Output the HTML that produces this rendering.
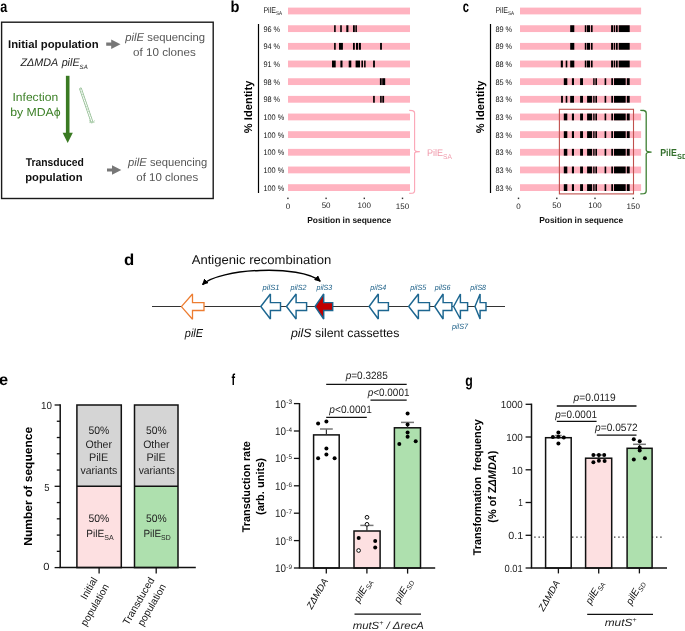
<!DOCTYPE html>
<html><head><meta charset="utf-8"><title>Figure</title>
<style>html,body{margin:0;padding:0;background:#fff;} svg{display:block;will-change:transform;} text{font-family:"Liberation Sans", sans-serif;text-rendering:geometricPrecision;}</style>
</head><body>
<svg width="685" height="631" viewBox="0 0 685 631" font-family='"Liberation Sans", sans-serif'>
<rect width="685" height="631" fill="#fff"/>
<text x="0.33" y="11.7" font-size="16" textLength="7.00" lengthAdjust="spacingAndGlyphs" font-weight="bold" font-style="normal" fill="#000">a</text>
<rect x="1.6" y="22.2" width="211.6" height="176.3" fill="none" stroke="#1a1a1a" stroke-width="1.4"/>
<text x="8.05" y="48" font-size="11.2" textLength="90.52" lengthAdjust="spacingAndGlyphs" font-weight="bold" font-style="normal" fill="#111">Initial population</text>
<text x="20.48" y="65.9" font-size="11.0" textLength="67.22" lengthAdjust="spacingAndGlyphs" font-weight="normal" font-style="italic" fill="#222">ZΔMDA <tspan dx="0.8">pilE</tspan><tspan font-size="6.2" dy="3.0">SA</tspan></text>
<polygon points="106.2,42.6 111.2,42.6 111.2,39.5 120.5,44.2 111.2,48.900000000000006 111.2,45.800000000000004 106.2,45.800000000000004" fill="#777"/>
<polygon points="107.0,168.4 112.0,168.4 112.0,165.3 121.3,170.0 112.0,174.7 112.0,171.6 107.0,171.6" fill="#777"/>
<text x="125.32" y="40.7" font-size="11.4" textLength="79.65" lengthAdjust="spacingAndGlyphs" font-weight="normal" font-style="normal" fill="#555"><tspan font-style="italic">pilE</tspan> sequencing</text>
<text x="133.04" y="55.6" font-size="11.4" textLength="62.75" lengthAdjust="spacingAndGlyphs" font-weight="normal" font-style="normal" fill="#555">of 10 clones</text>
<text x="128.10" y="166.4" font-size="11.4" textLength="79.05" lengthAdjust="spacingAndGlyphs" font-weight="normal" font-style="normal" fill="#555"><tspan font-style="italic">pilE</tspan> sequencing</text>
<text x="136.28" y="181.3" font-size="11.4" textLength="61.95" lengthAdjust="spacingAndGlyphs" font-weight="normal" font-style="normal" fill="#555">of 10 clones</text>
<rect x="65.9" y="75.8" width="3.6" height="57.4" fill="#3a7a22"/>
<polygon points="62.6,132.7 72.8,132.7 67.7,142.9" fill="#3a7a22"/>
<line x1="80.6" y1="89.0" x2="91.6" y2="121.0" stroke="#8dba8d" stroke-width="2.7" stroke-linecap="round"/>
<line x1="80.6" y1="89.0" x2="91.6" y2="121.0" stroke="#fff" stroke-width="1.2" stroke-linecap="round"/>
<line x1="80.6" y1="89.0" x2="91.6" y2="121.0" stroke="#b9d6b9" stroke-width="1.2" stroke-dasharray="0.9 1.7"/>
<polyline points="89.0,120.4 91.9,123.2 94.8,120.6" fill="none" stroke="#9cc49c" stroke-width="0.8"/>
<line x1="89.2" y1="122.6" x2="94.6" y2="122.4" stroke="#b0d0b0" stroke-width="0.7"/>
<text x="12.44" y="101" font-size="11.6" textLength="45.75" lengthAdjust="spacingAndGlyphs" font-weight="normal" font-style="normal" fill="#3d8128">Infection</text>
<text x="10.16" y="115.8" font-size="11.6" textLength="50.49" lengthAdjust="spacingAndGlyphs" font-weight="normal" font-style="normal" fill="#3d8128">by MDAϕ</text>
<text x="25.69" y="166.2" font-size="11.2" textLength="58.16" lengthAdjust="spacingAndGlyphs" font-weight="bold" font-style="normal" fill="#111">Transduced</text>
<text x="25.19" y="181.0" font-size="11.2" textLength="57.30" lengthAdjust="spacingAndGlyphs" font-weight="bold" font-style="normal" fill="#111">population</text>
<text x="230.61" y="11.8" font-size="16" textLength="8.92" lengthAdjust="spacingAndGlyphs" font-weight="bold" font-style="normal" fill="#000">b</text>
<rect x="288" y="7.60" width="122.0" height="6.8" fill="#ffb3c0"/>
<rect x="288" y="25.26" width="122.0" height="6.8" fill="#ffb3c0"/>
<rect x="288" y="42.92" width="122.0" height="6.8" fill="#ffb3c0"/>
<rect x="288" y="60.58" width="122.0" height="6.8" fill="#ffb3c0"/>
<rect x="288" y="78.24" width="122.0" height="6.8" fill="#ffb3c0"/>
<rect x="288" y="95.90" width="122.0" height="6.8" fill="#ffb3c0"/>
<rect x="288" y="113.56" width="122.0" height="6.8" fill="#ffb3c0"/>
<rect x="288" y="131.22" width="122.0" height="6.8" fill="#ffb3c0"/>
<rect x="288" y="148.88" width="122.0" height="6.8" fill="#ffb3c0"/>
<rect x="288" y="166.54" width="122.0" height="6.8" fill="#ffb3c0"/>
<rect x="288" y="184.20" width="122.0" height="6.8" fill="#ffb3c0"/>
<rect x="334.1" y="25.26" width="1.6" height="6.8" fill="#000"/>
<rect x="340.2" y="25.26" width="1.6" height="6.8" fill="#000"/>
<rect x="346.3" y="25.26" width="2.1" height="6.8" fill="#000"/>
<rect x="353.0" y="25.26" width="1.8" height="6.8" fill="#000"/>
<rect x="355.4" y="25.26" width="1.5" height="6.8" fill="#000"/>
<rect x="334.1" y="42.92" width="1.6" height="6.8" fill="#000"/>
<rect x="339.0" y="42.92" width="3.9" height="6.8" fill="#000"/>
<rect x="353.0" y="42.92" width="1.8" height="6.8" fill="#000"/>
<rect x="356.0" y="42.92" width="2.1" height="6.8" fill="#000"/>
<rect x="358.9" y="42.92" width="2.0" height="6.8" fill="#000"/>
<rect x="380.1" y="42.92" width="1.8" height="6.8" fill="#000"/>
<rect x="332.0" y="60.58" width="3.7" height="6.8" fill="#000"/>
<rect x="340.4" y="60.58" width="2.1" height="6.8" fill="#000"/>
<rect x="348.7" y="60.58" width="2.6" height="6.8" fill="#000"/>
<rect x="355.6" y="60.58" width="4.4" height="6.8" fill="#000"/>
<rect x="361.4" y="60.58" width="1.6" height="6.8" fill="#000"/>
<rect x="364.1" y="60.58" width="1.5" height="6.8" fill="#000"/>
<rect x="373.1" y="60.58" width="1.8" height="6.8" fill="#000"/>
<rect x="379.9" y="78.24" width="1.8" height="6.8" fill="#000"/>
<rect x="382.2" y="78.24" width="3.0" height="6.8" fill="#000"/>
<rect x="373.1" y="95.90" width="1.7" height="6.8" fill="#000"/>
<rect x="380.1" y="95.90" width="1.6" height="6.8" fill="#000"/>
<rect x="382.3" y="95.90" width="1.8" height="6.8" fill="#000"/>
<text x="263.39" y="13.2" font-size="8.4" textLength="18.68" lengthAdjust="spacingAndGlyphs" font-weight="normal" font-style="normal" fill="#222">PilE<tspan font-size="5.4" dy="1.9">SA</tspan></text>
<text x="263.39" y="31.66" font-size="8.1" textLength="16.76" lengthAdjust="spacingAndGlyphs" font-weight="normal" font-style="normal" fill="#151515">96 %</text>
<text x="263.39" y="49.32" font-size="8.1" textLength="16.76" lengthAdjust="spacingAndGlyphs" font-weight="normal" font-style="normal" fill="#151515">94 %</text>
<text x="263.39" y="66.98" font-size="8.1" textLength="16.76" lengthAdjust="spacingAndGlyphs" font-weight="normal" font-style="normal" fill="#151515">91 %</text>
<text x="263.39" y="84.64" font-size="8.1" textLength="16.76" lengthAdjust="spacingAndGlyphs" font-weight="normal" font-style="normal" fill="#151515">98 %</text>
<text x="263.39" y="102.3" font-size="8.1" textLength="16.76" lengthAdjust="spacingAndGlyphs" font-weight="normal" font-style="normal" fill="#151515">98 %</text>
<text x="263.39" y="119.96" font-size="8.1" textLength="20.90" lengthAdjust="spacingAndGlyphs" font-weight="normal" font-style="normal" fill="#151515">100 %</text>
<text x="263.39" y="137.62" font-size="8.1" textLength="20.90" lengthAdjust="spacingAndGlyphs" font-weight="normal" font-style="normal" fill="#151515">100 %</text>
<text x="263.39" y="155.28" font-size="8.1" textLength="20.90" lengthAdjust="spacingAndGlyphs" font-weight="normal" font-style="normal" fill="#151515">100 %</text>
<text x="263.39" y="172.94" font-size="8.1" textLength="20.90" lengthAdjust="spacingAndGlyphs" font-weight="normal" font-style="normal" fill="#151515">100 %</text>
<text x="263.39" y="190.6" font-size="8.1" textLength="20.90" lengthAdjust="spacingAndGlyphs" font-weight="normal" font-style="normal" fill="#151515">100 %</text>
<line x1="258.5" y1="24" x2="258.5" y2="193" stroke="#000" stroke-width="1.2"/>
<text transform="translate(252.4,106.9) rotate(-90)" x="0" y="0" font-size="11.2" font-weight="bold" text-anchor="middle" fill="#000" textLength="52.5" lengthAdjust="spacingAndGlyphs">% Identity</text>
<rect x="287.2" y="197.6" width="1.4" height="1.5" fill="#333"/>
<text x="287.9" y="209.3" font-size="8.0" text-anchor="middle" font-weight="normal" font-style="normal" fill="#222" >0</text>
<rect x="325.4" y="197.6" width="1.4" height="1.5" fill="#333"/>
<text x="326.1" y="208.4" font-size="8.0" text-anchor="middle" font-weight="normal" font-style="normal" fill="#222" >50</text>
<rect x="363.6" y="197.6" width="1.4" height="1.5" fill="#333"/>
<text x="364.3" y="208.3" font-size="8.0" text-anchor="middle" font-weight="normal" font-style="normal" fill="#222" >100</text>
<rect x="401.8" y="197.6" width="1.4" height="1.5" fill="#333"/>
<text x="402.5" y="209.3" font-size="8.0" text-anchor="middle" font-weight="normal" font-style="normal" fill="#222" >150</text>
<text x="307.16" y="222.6" font-size="8.6" textLength="83.95" lengthAdjust="spacingAndGlyphs" font-weight="bold" font-style="normal" fill="#111">Position in sequence</text>
<text x="462.71" y="11.8" font-size="16" textLength="6.22" lengthAdjust="spacingAndGlyphs" font-weight="bold" font-style="normal" fill="#000">c</text>
<rect x="520.0" y="7.60" width="121.1" height="6.8" fill="#ffb3c0"/>
<rect x="520.0" y="25.26" width="121.1" height="6.8" fill="#ffb3c0"/>
<rect x="520.0" y="42.92" width="121.1" height="6.8" fill="#ffb3c0"/>
<rect x="520.0" y="60.58" width="121.1" height="6.8" fill="#ffb3c0"/>
<rect x="520.0" y="78.24" width="121.1" height="6.8" fill="#ffb3c0"/>
<rect x="520.0" y="95.90" width="121.1" height="6.8" fill="#ffb3c0"/>
<rect x="520.0" y="113.56" width="121.1" height="6.8" fill="#ffb3c0"/>
<rect x="520.0" y="131.22" width="121.1" height="6.8" fill="#ffb3c0"/>
<rect x="520.0" y="148.88" width="121.1" height="6.8" fill="#ffb3c0"/>
<rect x="520.0" y="166.54" width="121.1" height="6.8" fill="#ffb3c0"/>
<rect x="520.0" y="184.20" width="121.1" height="6.8" fill="#ffb3c0"/>
<rect x="570.2" y="25.26" width="4.1" height="6.8" fill="#000"/>
<rect x="584.8" y="25.26" width="1.5" height="6.8" fill="#000"/>
<rect x="586.9" y="25.26" width="3.1" height="6.8" fill="#000"/>
<rect x="590.9" y="25.26" width="1.7" height="6.8" fill="#000"/>
<rect x="611.1" y="25.26" width="1.9" height="6.8" fill="#000"/>
<rect x="613.7" y="25.26" width="1.5" height="6.8" fill="#000"/>
<rect x="616.0" y="25.26" width="1.7" height="6.8" fill="#000"/>
<rect x="618.7" y="25.26" width="11.0" height="6.8" fill="#000"/>
<rect x="570.2" y="42.92" width="4.1" height="6.8" fill="#000"/>
<rect x="584.8" y="42.92" width="1.5" height="6.8" fill="#000"/>
<rect x="586.9" y="42.92" width="3.1" height="6.8" fill="#000"/>
<rect x="590.9" y="42.92" width="1.7" height="6.8" fill="#000"/>
<rect x="611.1" y="42.92" width="1.9" height="6.8" fill="#000"/>
<rect x="613.7" y="42.92" width="1.5" height="6.8" fill="#000"/>
<rect x="616.0" y="42.92" width="1.7" height="6.8" fill="#000"/>
<rect x="618.7" y="42.92" width="11.0" height="6.8" fill="#000"/>
<rect x="560.8" y="60.58" width="2.1" height="6.8" fill="#000"/>
<rect x="565.7" y="60.58" width="1.6" height="6.8" fill="#000"/>
<rect x="570.2" y="60.58" width="4.1" height="6.8" fill="#000"/>
<rect x="584.8" y="60.58" width="1.5" height="6.8" fill="#000"/>
<rect x="586.9" y="60.58" width="3.1" height="6.8" fill="#000"/>
<rect x="590.9" y="60.58" width="1.7" height="6.8" fill="#000"/>
<rect x="611.1" y="60.58" width="1.9" height="6.8" fill="#000"/>
<rect x="613.7" y="60.58" width="1.5" height="6.8" fill="#000"/>
<rect x="616.0" y="60.58" width="1.7" height="6.8" fill="#000"/>
<rect x="618.7" y="60.58" width="11.0" height="6.8" fill="#000"/>
<rect x="563.8" y="78.24" width="3.5" height="6.8" fill="#000"/>
<rect x="571.9" y="78.24" width="2.1" height="6.8" fill="#000"/>
<rect x="580.1" y="78.24" width="2.9" height="6.8" fill="#000"/>
<rect x="593.2" y="78.24" width="1.4" height="6.8" fill="#000"/>
<rect x="595.4" y="78.24" width="1.6" height="6.8" fill="#000"/>
<rect x="604.6" y="78.24" width="1.6" height="6.8" fill="#000"/>
<rect x="611.3" y="78.24" width="1.7" height="6.8" fill="#000"/>
<rect x="614.0" y="78.24" width="11.7" height="6.8" fill="#000"/>
<rect x="626.8" y="78.24" width="2.9" height="6.8" fill="#000"/>
<rect x="561.1" y="95.90" width="1.8" height="6.8" fill="#000"/>
<rect x="565.7" y="95.90" width="1.6" height="6.8" fill="#000"/>
<rect x="570.2" y="95.90" width="3.8" height="6.8" fill="#000"/>
<rect x="580.1" y="95.90" width="2.9" height="6.8" fill="#000"/>
<rect x="587.1" y="95.90" width="5.0" height="6.8" fill="#000"/>
<rect x="593.2" y="95.90" width="1.4" height="6.8" fill="#000"/>
<rect x="595.4" y="95.90" width="1.6" height="6.8" fill="#000"/>
<rect x="604.6" y="95.90" width="1.6" height="6.8" fill="#000"/>
<rect x="611.3" y="95.90" width="1.7" height="6.8" fill="#000"/>
<rect x="614.0" y="95.90" width="11.7" height="6.8" fill="#000"/>
<rect x="626.8" y="95.90" width="2.9" height="6.8" fill="#000"/>
<rect x="563.8" y="113.56" width="3.5" height="6.8" fill="#000"/>
<rect x="571.9" y="113.56" width="2.1" height="6.8" fill="#000"/>
<rect x="580.1" y="113.56" width="2.9" height="6.8" fill="#000"/>
<rect x="587.1" y="113.56" width="5.0" height="6.8" fill="#000"/>
<rect x="593.2" y="113.56" width="1.4" height="6.8" fill="#000"/>
<rect x="595.4" y="113.56" width="1.6" height="6.8" fill="#000"/>
<rect x="604.6" y="113.56" width="1.6" height="6.8" fill="#000"/>
<rect x="611.3" y="113.56" width="1.7" height="6.8" fill="#000"/>
<rect x="614.0" y="113.56" width="11.7" height="6.8" fill="#000"/>
<rect x="626.8" y="113.56" width="2.9" height="6.8" fill="#000"/>
<rect x="563.8" y="131.22" width="3.5" height="6.8" fill="#000"/>
<rect x="571.9" y="131.22" width="2.1" height="6.8" fill="#000"/>
<rect x="580.1" y="131.22" width="2.9" height="6.8" fill="#000"/>
<rect x="587.1" y="131.22" width="5.0" height="6.8" fill="#000"/>
<rect x="593.2" y="131.22" width="1.4" height="6.8" fill="#000"/>
<rect x="595.4" y="131.22" width="1.6" height="6.8" fill="#000"/>
<rect x="604.6" y="131.22" width="1.6" height="6.8" fill="#000"/>
<rect x="611.3" y="131.22" width="1.7" height="6.8" fill="#000"/>
<rect x="614.0" y="131.22" width="11.7" height="6.8" fill="#000"/>
<rect x="626.8" y="131.22" width="2.9" height="6.8" fill="#000"/>
<rect x="563.8" y="148.88" width="3.5" height="6.8" fill="#000"/>
<rect x="571.9" y="148.88" width="2.1" height="6.8" fill="#000"/>
<rect x="580.1" y="148.88" width="2.9" height="6.8" fill="#000"/>
<rect x="587.1" y="148.88" width="5.0" height="6.8" fill="#000"/>
<rect x="593.2" y="148.88" width="1.4" height="6.8" fill="#000"/>
<rect x="595.4" y="148.88" width="1.6" height="6.8" fill="#000"/>
<rect x="604.6" y="148.88" width="1.6" height="6.8" fill="#000"/>
<rect x="611.3" y="148.88" width="1.7" height="6.8" fill="#000"/>
<rect x="614.0" y="148.88" width="11.7" height="6.8" fill="#000"/>
<rect x="626.8" y="148.88" width="2.9" height="6.8" fill="#000"/>
<rect x="563.8" y="166.54" width="3.5" height="6.8" fill="#000"/>
<rect x="571.9" y="166.54" width="2.1" height="6.8" fill="#000"/>
<rect x="580.1" y="166.54" width="2.9" height="6.8" fill="#000"/>
<rect x="587.1" y="166.54" width="5.0" height="6.8" fill="#000"/>
<rect x="593.2" y="166.54" width="1.4" height="6.8" fill="#000"/>
<rect x="595.4" y="166.54" width="1.6" height="6.8" fill="#000"/>
<rect x="604.6" y="166.54" width="1.6" height="6.8" fill="#000"/>
<rect x="611.3" y="166.54" width="1.7" height="6.8" fill="#000"/>
<rect x="614.0" y="166.54" width="11.7" height="6.8" fill="#000"/>
<rect x="626.8" y="166.54" width="2.9" height="6.8" fill="#000"/>
<rect x="563.8" y="184.20" width="3.5" height="6.8" fill="#000"/>
<rect x="571.9" y="184.20" width="2.1" height="6.8" fill="#000"/>
<rect x="580.1" y="184.20" width="2.9" height="6.8" fill="#000"/>
<rect x="587.1" y="184.20" width="5.0" height="6.8" fill="#000"/>
<rect x="593.2" y="184.20" width="1.4" height="6.8" fill="#000"/>
<rect x="595.4" y="184.20" width="1.6" height="6.8" fill="#000"/>
<rect x="604.6" y="184.20" width="1.6" height="6.8" fill="#000"/>
<rect x="611.3" y="184.20" width="1.7" height="6.8" fill="#000"/>
<rect x="614.0" y="184.20" width="11.7" height="6.8" fill="#000"/>
<rect x="626.8" y="184.20" width="2.9" height="6.8" fill="#000"/>
<text x="495.39" y="13.2" font-size="8.4" textLength="18.68" lengthAdjust="spacingAndGlyphs" font-weight="normal" font-style="normal" fill="#222">PilE<tspan font-size="5.4" dy="1.9">SA</tspan></text>
<text x="495.39" y="31.66" font-size="8.1" textLength="16.76" lengthAdjust="spacingAndGlyphs" font-weight="normal" font-style="normal" fill="#151515">89 %</text>
<text x="495.39" y="49.32" font-size="8.1" textLength="16.76" lengthAdjust="spacingAndGlyphs" font-weight="normal" font-style="normal" fill="#151515">89 %</text>
<text x="495.39" y="66.98" font-size="8.1" textLength="16.76" lengthAdjust="spacingAndGlyphs" font-weight="normal" font-style="normal" fill="#151515">88 %</text>
<text x="495.39" y="84.64" font-size="8.1" textLength="16.76" lengthAdjust="spacingAndGlyphs" font-weight="normal" font-style="normal" fill="#151515">85 %</text>
<text x="495.39" y="102.3" font-size="8.1" textLength="16.76" lengthAdjust="spacingAndGlyphs" font-weight="normal" font-style="normal" fill="#151515">83 %</text>
<text x="495.39" y="119.96" font-size="8.1" textLength="16.76" lengthAdjust="spacingAndGlyphs" font-weight="normal" font-style="normal" fill="#151515">83 %</text>
<text x="495.39" y="137.62" font-size="8.1" textLength="16.76" lengthAdjust="spacingAndGlyphs" font-weight="normal" font-style="normal" fill="#151515">83 %</text>
<text x="495.39" y="155.28" font-size="8.1" textLength="16.76" lengthAdjust="spacingAndGlyphs" font-weight="normal" font-style="normal" fill="#151515">83 %</text>
<text x="495.39" y="172.94" font-size="8.1" textLength="16.76" lengthAdjust="spacingAndGlyphs" font-weight="normal" font-style="normal" fill="#151515">83 %</text>
<text x="495.39" y="190.6" font-size="8.1" textLength="16.76" lengthAdjust="spacingAndGlyphs" font-weight="normal" font-style="normal" fill="#151515">83 %</text>
<line x1="490.5" y1="24" x2="490.5" y2="193" stroke="#000" stroke-width="1.2"/>
<text transform="translate(484.4,106.9) rotate(-90)" x="0" y="0" font-size="11.2" font-weight="bold" text-anchor="middle" fill="#000" textLength="52.5" lengthAdjust="spacingAndGlyphs">% Identity</text>
<rect x="517.8" y="197.6" width="1.4" height="1.5" fill="#333"/>
<text x="518.5" y="209.3" font-size="8.0" text-anchor="middle" font-weight="normal" font-style="normal" fill="#222" >0</text>
<rect x="556.1" y="197.6" width="1.4" height="1.5" fill="#333"/>
<text x="556.8" y="208.4" font-size="8.0" text-anchor="middle" font-weight="normal" font-style="normal" fill="#222" >50</text>
<rect x="594.3" y="197.6" width="1.4" height="1.5" fill="#333"/>
<text x="595.0" y="208.3" font-size="8.0" text-anchor="middle" font-weight="normal" font-style="normal" fill="#222" >100</text>
<rect x="632.6" y="197.6" width="1.4" height="1.5" fill="#333"/>
<text x="633.3" y="209.3" font-size="8.0" text-anchor="middle" font-weight="normal" font-style="normal" fill="#222" >150</text>
<text x="539.16" y="222.6" font-size="8.6" textLength="83.95" lengthAdjust="spacingAndGlyphs" font-weight="bold" font-style="normal" fill="#111">Position in sequence</text>
<path d="M409.2,110.4 L412.4,110.6 Q414.6,111.0 414.6,113.2 L414.6,149.8 Q414.6,151.6 419.8,151.6 Q414.6,151.6 414.6,153.4 L414.6,190.8 Q414.6,193.0 412.4,193.2 L409.2,193.4" fill="none" stroke="#fba8b8" stroke-width="1.15"/>
<text x="426.92" y="155.7" font-size="9.6" textLength="25.05" lengthAdjust="spacingAndGlyphs" font-weight="normal" font-style="normal" fill="#f09aab">PilE<tspan font-size="7" dy="2.9">SA</tspan></text>
<rect x="559.4" y="109.3" width="74.1" height="84.6" fill="none" stroke="#c0504d" stroke-width="1.1"/>
<path d="M640.3,110.3 L643.8,110.5 Q646.2,110.9 646.2,113.3 L646.2,150.0 Q646.2,152.1 651.6,152.1 Q646.2,152.1 646.2,154.2 L646.2,191.0 Q646.2,193.4 643.8,193.7 L640.3,193.9" fill="none" stroke="#3e7f33" stroke-width="1.3"/>
<text x="660.2" y="155.7" font-size="10.2" font-weight="bold" fill="#336f2c" textLength="16.6" lengthAdjust="spacingAndGlyphs">PilE</text>
<text x="677.0" y="158.7" font-size="7.4" font-weight="bold" fill="#336f2c">SD</text>
<text x="123.97" y="264.5" font-size="16" textLength="10.24" lengthAdjust="spacingAndGlyphs" font-weight="bold" font-style="normal" fill="#000">d</text>
<text x="191.74" y="263.6" font-size="12.6" textLength="139.57" lengthAdjust="spacingAndGlyphs" font-weight="normal" font-style="normal" fill="#111">Antigenic recombination</text>
<defs><marker id="ah" viewBox="0 0 10 10" refX="9" refY="5" markerWidth="4.2" markerHeight="4.2" orient="auto-start-reverse"><path d="M0,0 L10,5 L0,10 z" fill="#000"/></marker></defs>
<path d="M202.5,284.6 C219,268.5 300,264 320.3,281.3" fill="none" stroke="#000" stroke-width="1.5" marker-start="url(#ah)" marker-end="url(#ah)"/>
<line x1="152" y1="306.5" x2="505" y2="306.5" stroke="#333" stroke-width="1.2"/>
<polygon points="181.4,306.6 192.5,294.0 192.5,302.70000000000005 204.0,302.70000000000005 204.0,310.5 192.5,310.5 192.5,319.20000000000005" fill="#fff" stroke="#ed7d31" stroke-width="1.3" stroke-linejoin="miter" stroke-miterlimit="1.5"/>
<polygon points="260.8,306.5 270.4,294.0 270.4,302.6 280.5,302.6 280.5,310.4 270.4,310.4 270.4,319.0" fill="#fff" stroke="#1c6690" stroke-width="1.45" stroke-linejoin="miter" stroke-miterlimit="1.5"/>
<polygon points="286.5,306.5 296.1,294.0 296.1,302.6 306.6,302.6 306.6,310.4 296.1,310.4 296.1,319.0" fill="#fff" stroke="#1c6690" stroke-width="1.45" stroke-linejoin="miter" stroke-miterlimit="1.5"/>
<polygon points="315.1,306.5 323.7,294.0 323.7,302.6 332.7,302.6 332.7,310.4 323.7,310.4 323.7,319.0" fill="#c00000" stroke="#1c6690" stroke-width="1.45" stroke-linejoin="miter" stroke-miterlimit="1.5"/>
<polygon points="369.1,306.5 378.3,294.0 378.3,302.6 388.4,302.6 388.4,310.4 378.3,310.4 378.3,319.0" fill="#fff" stroke="#1c6690" stroke-width="1.45" stroke-linejoin="miter" stroke-miterlimit="1.5"/>
<polygon points="408.7,306.5 418.4,294.0 418.4,302.6 429.5,302.6 429.5,310.4 418.4,310.4 418.4,319.0" fill="#fff" stroke="#1c6690" stroke-width="1.45" stroke-linejoin="miter" stroke-miterlimit="1.5"/>
<polygon points="434.7,306.5 443.1,294.0 443.1,302.6 451.9,302.6 451.9,310.4 443.1,310.4 443.1,319.0" fill="#fff" stroke="#1c6690" stroke-width="1.45" stroke-linejoin="miter" stroke-miterlimit="1.5"/>
<polygon points="453.6,306.5 460.4,294.0 460.4,302.6 467.6,302.6 467.6,310.4 460.4,310.4 460.4,319.0" fill="#fff" stroke="#1c6690" stroke-width="1.45" stroke-linejoin="miter" stroke-miterlimit="1.5"/>
<polygon points="475.0,306.5 480.1,294.0 480.1,302.6 486.0,302.6 486.0,310.4 480.1,310.4 480.1,319.0" fill="#fff" stroke="#1c6690" stroke-width="1.45" stroke-linejoin="miter" stroke-miterlimit="1.5"/>
<text x="262.58" y="290.2" font-size="7.6" textLength="16.83" lengthAdjust="spacingAndGlyphs" font-weight="normal" font-style="italic" fill="#1a5e86">pilS1</text>
<text x="290.54" y="290.2" font-size="7.6" textLength="15.87" lengthAdjust="spacingAndGlyphs" font-weight="normal" font-style="italic" fill="#1a5e86">pilS2</text>
<text x="316.54" y="290.2" font-size="7.6" textLength="15.73" lengthAdjust="spacingAndGlyphs" font-weight="normal" font-style="italic" fill="#1a5e86">pilS3</text>
<text x="370.36" y="290.2" font-size="7.6" textLength="15.91" lengthAdjust="spacingAndGlyphs" font-weight="normal" font-style="italic" fill="#1a5e86">pilS4</text>
<text x="410.22" y="290.2" font-size="7.6" textLength="16.05" lengthAdjust="spacingAndGlyphs" font-weight="normal" font-style="italic" fill="#1a5e86">pilS5</text>
<text x="434.68" y="290.2" font-size="7.6" textLength="15.91" lengthAdjust="spacingAndGlyphs" font-weight="normal" font-style="italic" fill="#1a5e86">pilS6</text>
<text x="470.36" y="290.2" font-size="7.6" textLength="15.69" lengthAdjust="spacingAndGlyphs" font-weight="normal" font-style="italic" fill="#1a5e86">pilS8</text>
<text x="452.00" y="328.9" font-size="7.6" textLength="16.05" lengthAdjust="spacingAndGlyphs" font-weight="normal" font-style="italic" fill="#1a5e86">pilS7</text>
<text x="184.84" y="336.6" font-size="11.6" textLength="18.21" lengthAdjust="spacingAndGlyphs" font-weight="normal" font-style="italic" fill="#111">pilE</text>
<text x="290.96" y="336.5" font-size="12.0" textLength="108.44" lengthAdjust="spacingAndGlyphs" font-weight="normal" font-style="normal" fill="#111"><tspan font-style="italic">pilS</tspan> silent cassettes</text>
<text x="-0.93" y="385.3" font-size="16" textLength="9.10" lengthAdjust="spacingAndGlyphs" font-weight="bold" font-style="normal" fill="#000">e</text>
<rect x="76.9" y="405.0" width="44.4" height="81.30" fill="#d5d5d5"/>
<rect x="76.9" y="486.30" width="44.4" height="81.30" fill="#fde0e1"/>
<rect x="76.9" y="405.0" width="44.4" height="162.60" fill="none" stroke="#111" stroke-width="1.5"/>
<line x1="76.9" y1="486.30" x2="121.3" y2="486.30" stroke="#111" stroke-width="1.5"/>
<rect x="134.5" y="405.0" width="43.5" height="81.30" fill="#d5d5d5"/>
<rect x="134.5" y="486.30" width="43.5" height="81.30" fill="#aee0ae"/>
<rect x="134.5" y="405.0" width="43.5" height="162.60" fill="none" stroke="#111" stroke-width="1.5"/>
<line x1="134.5" y1="486.30" x2="178.0" y2="486.30" stroke="#111" stroke-width="1.5"/>
<line x1="60.2" y1="404.3" x2="60.2" y2="567.6" stroke="#111" stroke-width="1.5"/>
<line x1="59.5" y1="567.6" x2="195.8" y2="567.6" stroke="#111" stroke-width="1.5"/>
<line x1="54.6" y1="567.60" x2="60.2" y2="567.60" stroke="#111" stroke-width="1.3"/>
<line x1="56.8" y1="551.34" x2="60.2" y2="551.34" stroke="#111" stroke-width="1.3"/>
<line x1="56.8" y1="535.08" x2="60.2" y2="535.08" stroke="#111" stroke-width="1.3"/>
<line x1="56.8" y1="518.82" x2="60.2" y2="518.82" stroke="#111" stroke-width="1.3"/>
<line x1="56.8" y1="502.56" x2="60.2" y2="502.56" stroke="#111" stroke-width="1.3"/>
<line x1="54.6" y1="486.30" x2="60.2" y2="486.30" stroke="#111" stroke-width="1.3"/>
<line x1="56.8" y1="470.04" x2="60.2" y2="470.04" stroke="#111" stroke-width="1.3"/>
<line x1="56.8" y1="453.78" x2="60.2" y2="453.78" stroke="#111" stroke-width="1.3"/>
<line x1="56.8" y1="437.52" x2="60.2" y2="437.52" stroke="#111" stroke-width="1.3"/>
<line x1="56.8" y1="421.26" x2="60.2" y2="421.26" stroke="#111" stroke-width="1.3"/>
<line x1="54.6" y1="405.00" x2="60.2" y2="405.00" stroke="#111" stroke-width="1.3"/>
<text x="41.02" y="408.7" font-size="10.3" textLength="10.92" lengthAdjust="spacingAndGlyphs" font-weight="normal" font-style="normal" fill="#222">10</text>
<text x="44.34" y="490.5" font-size="10.3" textLength="5.24" lengthAdjust="spacingAndGlyphs" font-weight="normal" font-style="normal" fill="#222">5</text>
<text x="43.28" y="569.9" font-size="10.3" textLength="6.24" lengthAdjust="spacingAndGlyphs" font-weight="normal" font-style="normal" fill="#222">0</text>
<line x1="99.1" y1="567.6" x2="99.1" y2="573.6" stroke="#111" stroke-width="1.3"/>
<line x1="156.2" y1="567.6" x2="156.2" y2="573.6" stroke="#111" stroke-width="1.3"/>
<text x="88.45" y="434.4" font-size="10.9" textLength="20.89" lengthAdjust="spacingAndGlyphs" font-weight="normal" font-style="normal" fill="#222">50%</text>
<text x="85.53" y="447.8" font-size="10.9" textLength="26.53" lengthAdjust="spacingAndGlyphs" font-weight="normal" font-style="normal" fill="#222">Other</text>
<text x="88.99" y="461.2" font-size="10.9" textLength="19.21" lengthAdjust="spacingAndGlyphs" font-weight="normal" font-style="normal" fill="#222">PilE</text>
<text x="80.42" y="474.3" font-size="10.9" textLength="36.75" lengthAdjust="spacingAndGlyphs" font-weight="normal" font-style="normal" fill="#222">variants</text>
<text x="88.45" y="522.0" font-size="10.9" textLength="20.89" lengthAdjust="spacingAndGlyphs" font-weight="normal" font-style="normal" fill="#222">50%</text>
<text x="146.12" y="434.4" font-size="10.9" textLength="20.69" lengthAdjust="spacingAndGlyphs" font-weight="normal" font-style="normal" fill="#222">50%</text>
<text x="143.20" y="447.8" font-size="10.9" textLength="26.33" lengthAdjust="spacingAndGlyphs" font-weight="normal" font-style="normal" fill="#222">Other</text>
<text x="146.46" y="461.2" font-size="10.9" textLength="19.21" lengthAdjust="spacingAndGlyphs" font-weight="normal" font-style="normal" fill="#222">PilE</text>
<text x="138.69" y="474.3" font-size="10.9" textLength="36.15" lengthAdjust="spacingAndGlyphs" font-weight="normal" font-style="normal" fill="#222">variants</text>
<text x="146.02" y="522.0" font-size="10.9" textLength="20.69" lengthAdjust="spacingAndGlyphs" font-weight="normal" font-style="normal" fill="#222">50%</text>
<text x="86.24" y="537.1" font-size="10.4" textLength="27.35" lengthAdjust="spacingAndGlyphs" font-weight="normal" font-style="normal" fill="#222">PilE<tspan font-size="7.2" dy="2.6">SA</tspan></text>
<text x="143.38" y="537.1" font-size="10.4" textLength="27.25" lengthAdjust="spacingAndGlyphs" font-weight="normal" font-style="normal" fill="#222">PilE<tspan font-size="7.2" dy="2.6">SD</tspan></text>
<text transform="translate(31.8,486.3) rotate(-90)" font-size="11.6" font-weight="bold" text-anchor="middle" fill="#000" textLength="119" lengthAdjust="spacingAndGlyphs">Number of sequence</text>
<text transform="translate(97.8,579.8) rotate(-60)" font-size="10.1" font-style="normal" text-anchor="end" fill="#111"><tspan x="0" y="0.0">Initial</tspan><tspan x="0" y="13.4">population</tspan></text>
<text transform="translate(154.7,579.8) rotate(-60)" font-size="10.1" font-style="normal" text-anchor="end" fill="#111"><tspan x="0" y="0.0">Transduced</tspan><tspan x="0" y="13.4">population</tspan></text>
<text x="231.61" y="385.4" font-size="16" textLength="3.58" lengthAdjust="spacingAndGlyphs" font-weight="bold" font-style="normal" fill="#000">f</text>
<rect x="313.6" y="434.9" width="25.6" height="133.1" fill="#fff" stroke="#111" stroke-width="1.5"/>
<rect x="354.0" y="531.0" width="26.1" height="37.0" fill="#fde0e1" stroke="#111" stroke-width="1.5"/>
<rect x="394.4" y="427.8" width="26.1" height="140.2" fill="#aee0ae" stroke="#111" stroke-width="1.5"/>
<line x1="299.5" y1="403.0" x2="299.5" y2="568.0" stroke="#111" stroke-width="1.5"/>
<line x1="298.8" y1="568.0" x2="435.2" y2="568.0" stroke="#111" stroke-width="1.5"/>
<line x1="293.9" y1="568.0" x2="299.5" y2="568.0" stroke="#111" stroke-width="1.3"/>
<text x="274.96" y="571.9" font-size="11.0" textLength="10.99" lengthAdjust="spacingAndGlyphs" font-weight="normal" font-style="normal" fill="#222">10</text>
<text x="286.3" y="568.7" font-size="6.4" text-anchor="start" font-weight="normal" font-style="normal" fill="#222" >-9</text>
<line x1="293.9" y1="540.6" x2="299.5" y2="540.6" stroke="#111" stroke-width="1.3"/>
<text x="274.96" y="544.5" font-size="11.0" textLength="10.99" lengthAdjust="spacingAndGlyphs" font-weight="normal" font-style="normal" fill="#222">10</text>
<text x="286.3" y="541.3" font-size="6.4" text-anchor="start" font-weight="normal" font-style="normal" fill="#222" >-8</text>
<line x1="293.9" y1="513.2" x2="299.5" y2="513.2" stroke="#111" stroke-width="1.3"/>
<text x="274.96" y="517.1" font-size="11.0" textLength="10.99" lengthAdjust="spacingAndGlyphs" font-weight="normal" font-style="normal" fill="#222">10</text>
<text x="286.3" y="513.9" font-size="6.4" text-anchor="start" font-weight="normal" font-style="normal" fill="#222" >-7</text>
<line x1="293.9" y1="485.8" x2="299.5" y2="485.8" stroke="#111" stroke-width="1.3"/>
<text x="274.96" y="489.7" font-size="11.0" textLength="10.99" lengthAdjust="spacingAndGlyphs" font-weight="normal" font-style="normal" fill="#222">10</text>
<text x="286.3" y="486.5" font-size="6.4" text-anchor="start" font-weight="normal" font-style="normal" fill="#222" >-6</text>
<line x1="293.9" y1="458.4" x2="299.5" y2="458.4" stroke="#111" stroke-width="1.3"/>
<text x="274.96" y="462.3" font-size="11.0" textLength="10.99" lengthAdjust="spacingAndGlyphs" font-weight="normal" font-style="normal" fill="#222">10</text>
<text x="286.3" y="459.1" font-size="6.4" text-anchor="start" font-weight="normal" font-style="normal" fill="#222" >-5</text>
<line x1="293.9" y1="431.0" x2="299.5" y2="431.0" stroke="#111" stroke-width="1.3"/>
<text x="274.96" y="434.9" font-size="11.0" textLength="10.99" lengthAdjust="spacingAndGlyphs" font-weight="normal" font-style="normal" fill="#222">10</text>
<text x="286.3" y="431.7" font-size="6.4" text-anchor="start" font-weight="normal" font-style="normal" fill="#222" >-4</text>
<line x1="293.9" y1="403.6" x2="299.5" y2="403.6" stroke="#111" stroke-width="1.3"/>
<text x="274.96" y="407.5" font-size="11.0" textLength="10.99" lengthAdjust="spacingAndGlyphs" font-weight="normal" font-style="normal" fill="#222">10</text>
<text x="286.3" y="404.3" font-size="6.4" text-anchor="start" font-weight="normal" font-style="normal" fill="#222" >-3</text>
<line x1="326.3" y1="568.0" x2="326.3" y2="573.6" stroke="#111" stroke-width="1.3"/>
<line x1="366.9" y1="568.0" x2="366.9" y2="573.6" stroke="#111" stroke-width="1.3"/>
<line x1="407.6" y1="568.0" x2="407.6" y2="573.6" stroke="#111" stroke-width="1.3"/>
<line x1="326.4" y1="434.9" x2="326.4" y2="429.0" stroke="#333" stroke-width="1.2"/>
<line x1="320.0" y1="429.0" x2="332.79999999999995" y2="429.0" stroke="#777" stroke-width="1.5"/>
<line x1="366.9" y1="531.0" x2="366.9" y2="525.4" stroke="#333" stroke-width="1.2"/>
<line x1="360.29999999999995" y1="525.4" x2="373.5" y2="525.4" stroke="#777" stroke-width="1.5"/>
<line x1="407.5" y1="427.8" x2="407.5" y2="422.4" stroke="#333" stroke-width="1.2"/>
<line x1="401.0" y1="422.4" x2="414.0" y2="422.4" stroke="#777" stroke-width="1.5"/>
<circle cx="318.1" cy="423.5" r="2.0" fill="#000"/>
<circle cx="326.4" cy="421.6" r="2.0" fill="#000"/>
<circle cx="326.4" cy="448.5" r="2.0" fill="#000"/>
<circle cx="326.4" cy="454.5" r="2.0" fill="#000"/>
<circle cx="318.1" cy="458.2" r="2.0" fill="#000"/>
<circle cx="334.6" cy="458.2" r="2.0" fill="#000"/>
<circle cx="367" cy="517.3" r="1.85" fill="#fff" stroke="#000" stroke-width="0.95"/>
<circle cx="367" cy="524.3" r="1.85" fill="#fff" stroke="#000" stroke-width="0.95"/>
<circle cx="358.6" cy="550.5" r="1.85" fill="#fff" stroke="#000" stroke-width="0.95"/>
<circle cx="358.7" cy="538.1" r="2.0" fill="#000"/>
<circle cx="375.2" cy="541.0" r="2.0" fill="#000"/>
<circle cx="375.2" cy="547.4" r="2.0" fill="#000"/>
<circle cx="407.6" cy="413.6" r="2.0" fill="#000"/>
<circle cx="407.6" cy="424.4" r="2.0" fill="#000"/>
<circle cx="407.6" cy="432.6" r="2.0" fill="#000"/>
<circle cx="407.6" cy="436.8" r="2.0" fill="#000"/>
<circle cx="399.3" cy="444.0" r="2.0" fill="#000"/>
<circle cx="415.7" cy="441.2" r="2.0" fill="#000"/>
<line x1="326.2" y1="384.3" x2="406.7" y2="384.3" stroke="#111" stroke-width="1.3"/>
<line x1="370.5" y1="400.2" x2="406.7" y2="400.2" stroke="#111" stroke-width="1.3"/>
<line x1="326.2" y1="417.3" x2="366.8" y2="417.3" stroke="#111" stroke-width="1.3"/>
<text x="345.72" y="378.6" font-size="10.6" textLength="42.01" lengthAdjust="spacingAndGlyphs" font-weight="normal" font-style="normal" fill="#222"><tspan font-style="italic">p</tspan>=0.3285</text>
<text x="367.72" y="396.2" font-size="10.6" textLength="41.73" lengthAdjust="spacingAndGlyphs" font-weight="normal" font-style="normal" fill="#222"><tspan font-style="italic">p</tspan>&lt;0.0001</text>
<text x="329.36" y="412.5" font-size="10.6" textLength="42.41" lengthAdjust="spacingAndGlyphs" font-weight="normal" font-style="normal" fill="#222"><tspan font-style="italic">p</tspan>&lt;0.0001</text>
<text transform="translate(249.7,486.7) rotate(-90)" font-size="11.2" font-weight="bold" text-anchor="middle" fill="#000" textLength="91" lengthAdjust="spacingAndGlyphs">Transduction rate</text>
<text transform="translate(264.3,486.5) rotate(-90)" font-size="11.2" font-weight="bold" text-anchor="middle" fill="#000" textLength="57" lengthAdjust="spacingAndGlyphs">(arb. units)</text>
<text transform="translate(328.3,580.8) rotate(-60)" font-size="9.5" font-style="italic" text-anchor="end" fill="#111"><tspan x="0" y="0.0">ZΔMDA</tspan></text>
<text transform="translate(372.0,581.0) rotate(-60)" font-size="10.0" font-style="italic" text-anchor="end" fill="#111"><tspan x="0" y="0.0">pilE<tspan font-size="6.8" dy="2.4">SA</tspan></tspan></text>
<text transform="translate(412.6,581.0) rotate(-60)" font-size="10.0" font-style="italic" text-anchor="end" fill="#111"><tspan x="0" y="0.0">pilE<tspan font-size="6.8" dy="2.4">SD</tspan></tspan></text>
<line x1="354.5" y1="614.2" x2="421" y2="614.2" stroke="#111" stroke-width="1.3"/>
<text x="352.66" y="628.6" font-size="10.4" textLength="71.25" lengthAdjust="spacingAndGlyphs" font-weight="normal" font-style="italic" fill="#222">mutS<tspan font-size="6.5" dy="-4">+</tspan><tspan dy="4"> / ΔrecA</tspan></text>
<text x="465.21" y="385.5" font-size="16" textLength="7.54" lengthAdjust="spacingAndGlyphs" font-weight="bold" font-style="normal" fill="#000">g</text>
<line x1="534.3" y1="537.1" x2="664" y2="537.1" stroke="#222" stroke-width="1.1" stroke-dasharray="1.3 2.9"/>
<rect x="545.6" y="437.7" width="25.6" height="130.3" fill="#fff" stroke="#111" stroke-width="1.5"/>
<rect x="585.6" y="458.2" width="26.1" height="109.8" fill="#fde0e1" stroke="#111" stroke-width="1.5"/>
<rect x="627.1" y="448.3" width="25.0" height="119.7" fill="#aee0ae" stroke="#111" stroke-width="1.5"/>
<line x1="531.5" y1="403.6" x2="531.5" y2="568.0" stroke="#111" stroke-width="1.5"/>
<line x1="530.8" y1="568.0" x2="667" y2="568.0" stroke="#111" stroke-width="1.5"/>
<line x1="525.6" y1="568.0" x2="531.5" y2="568.0" stroke="#111" stroke-width="1.3"/>
<text x="504.48" y="571.7" font-size="10.3" textLength="18.26" lengthAdjust="spacingAndGlyphs" font-weight="normal" font-style="normal" fill="#222">0.01</text>
<line x1="525.6" y1="535.3" x2="531.5" y2="535.3" stroke="#111" stroke-width="1.3"/>
<text x="508.38" y="539.0" font-size="10.3" textLength="14.96" lengthAdjust="spacingAndGlyphs" font-weight="normal" font-style="normal" fill="#222">0.1</text>
<line x1="525.6" y1="502.5" x2="531.5" y2="502.5" stroke="#111" stroke-width="1.3"/>
<text x="518.16" y="506.2" font-size="10.3" textLength="4.58" lengthAdjust="spacingAndGlyphs" font-weight="normal" font-style="normal" fill="#222">1</text>
<line x1="525.6" y1="469.8" x2="531.5" y2="469.8" stroke="#111" stroke-width="1.3"/>
<text x="511.76" y="473.5" font-size="10.3" textLength="10.98" lengthAdjust="spacingAndGlyphs" font-weight="normal" font-style="normal" fill="#222">10</text>
<line x1="525.6" y1="437.0" x2="531.5" y2="437.0" stroke="#111" stroke-width="1.3"/>
<text x="506.26" y="440.7" font-size="10.3" textLength="16.48" lengthAdjust="spacingAndGlyphs" font-weight="normal" font-style="normal" fill="#222">100</text>
<line x1="525.6" y1="404.3" x2="531.5" y2="404.3" stroke="#111" stroke-width="1.3"/>
<text x="500.80" y="408.0" font-size="10.3" textLength="21.94" lengthAdjust="spacingAndGlyphs" font-weight="normal" font-style="normal" fill="#222">1000</text>
<line x1="558.4" y1="568.0" x2="558.4" y2="573.4" stroke="#111" stroke-width="1.3"/>
<line x1="598.7" y1="568.0" x2="598.7" y2="573.4" stroke="#111" stroke-width="1.3"/>
<line x1="639.4" y1="568.0" x2="639.4" y2="573.4" stroke="#111" stroke-width="1.3"/>
<line x1="558.4" y1="437.7" x2="558.4" y2="435.5" stroke="#333" stroke-width="1.2"/>
<line x1="555.1" y1="435.5" x2="561.6999999999999" y2="435.5" stroke="#777" stroke-width="1.5"/>
<line x1="598.8" y1="458.2" x2="598.8" y2="455.0" stroke="#333" stroke-width="1.2"/>
<line x1="595.3" y1="455.0" x2="602.3" y2="455.0" stroke="#777" stroke-width="1.5"/>
<line x1="639.5" y1="448.3" x2="639.5" y2="444.3" stroke="#333" stroke-width="1.2"/>
<line x1="633.1" y1="444.3" x2="645.9" y2="444.3" stroke="#777" stroke-width="1.5"/>
<circle cx="558.4" cy="432.6" r="2.0" fill="#000"/>
<circle cx="552.9" cy="437.0" r="2.0" fill="#000"/>
<circle cx="558.4" cy="436.7" r="2.0" fill="#000"/>
<circle cx="563.8" cy="437.6" r="2.0" fill="#000"/>
<circle cx="558.4" cy="443.4" r="2.0" fill="#000"/>
<circle cx="593.4" cy="455.1" r="2.0" fill="#000"/>
<circle cx="598.9" cy="455.1" r="2.0" fill="#000"/>
<circle cx="604.2" cy="455.1" r="2.0" fill="#000"/>
<circle cx="593.4" cy="462.3" r="2.0" fill="#000"/>
<circle cx="598.9" cy="460.7" r="2.0" fill="#000"/>
<circle cx="604.6" cy="461.1" r="2.0" fill="#000"/>
<circle cx="633.8" cy="439.2" r="2.0" fill="#000"/>
<circle cx="639.7" cy="441.2" r="2.0" fill="#000"/>
<circle cx="639.7" cy="447.4" r="2.0" fill="#000"/>
<circle cx="639.7" cy="450.4" r="2.0" fill="#000"/>
<circle cx="633.8" cy="459.6" r="2.0" fill="#000"/>
<circle cx="644.9" cy="458.2" r="2.0" fill="#000"/>
<line x1="556.8" y1="406.0" x2="636.5" y2="406.0" stroke="#111" stroke-width="1.3"/>
<line x1="556.8" y1="421.4" x2="596.6" y2="421.4" stroke="#111" stroke-width="1.3"/>
<line x1="596.8" y1="435.2" x2="636.5" y2="435.2" stroke="#111" stroke-width="1.3"/>
<text x="573.58" y="400.8" font-size="10.6" textLength="42.09" lengthAdjust="spacingAndGlyphs" font-weight="normal" font-style="normal" fill="#222"><tspan font-style="italic">p</tspan>=0.0119</text>
<text x="555.22" y="418.2" font-size="10.6" textLength="41.73" lengthAdjust="spacingAndGlyphs" font-weight="normal" font-style="normal" fill="#222"><tspan font-style="italic">p</tspan>=0.0001</text>
<text x="595.08" y="431.1" font-size="10.6" textLength="42.69" lengthAdjust="spacingAndGlyphs" font-weight="normal" font-style="normal" fill="#222"><tspan font-style="italic">p</tspan>=0.0572</text>
<text transform="translate(481.0,487.3) rotate(-90)" font-size="11.2" font-weight="bold" text-anchor="middle" fill="#000" xml:space="preserve" textLength="136" lengthAdjust="spacingAndGlyphs">Transformation  frequency</text>
<text transform="translate(496.2,486.7) rotate(-90)" font-size="11.2" font-weight="bold" text-anchor="middle" fill="#000" textLength="72" lengthAdjust="spacingAndGlyphs">(% of Z<tspan font-style="italic">ΔMDA</tspan>)</text>
<text transform="translate(560.2,582.8) rotate(-60)" font-size="9.5" font-style="italic" text-anchor="end" fill="#111"><tspan x="0" y="0.0">ZΔMDA</tspan></text>
<text transform="translate(603.6,582.8) rotate(-60)" font-size="10.0" font-style="italic" text-anchor="end" fill="#111"><tspan x="0" y="0.0">pilE<tspan font-size="6.8" dy="2.4">SA</tspan></tspan></text>
<text transform="translate(644.3,582.8) rotate(-60)" font-size="10.0" font-style="italic" text-anchor="end" fill="#111"><tspan x="0" y="0.0">pilE<tspan font-size="6.8" dy="2.4">SD</tspan></tspan></text>
<line x1="587.2" y1="614.4" x2="653" y2="614.4" stroke="#111" stroke-width="1.3"/>
<text x="604.70" y="625.5" font-size="10.4" textLength="31.97" lengthAdjust="spacingAndGlyphs" font-weight="normal" font-style="italic" fill="#222">mutS<tspan font-size="6.5" dy="-4">+</tspan></text>
</svg>
</body></html>
